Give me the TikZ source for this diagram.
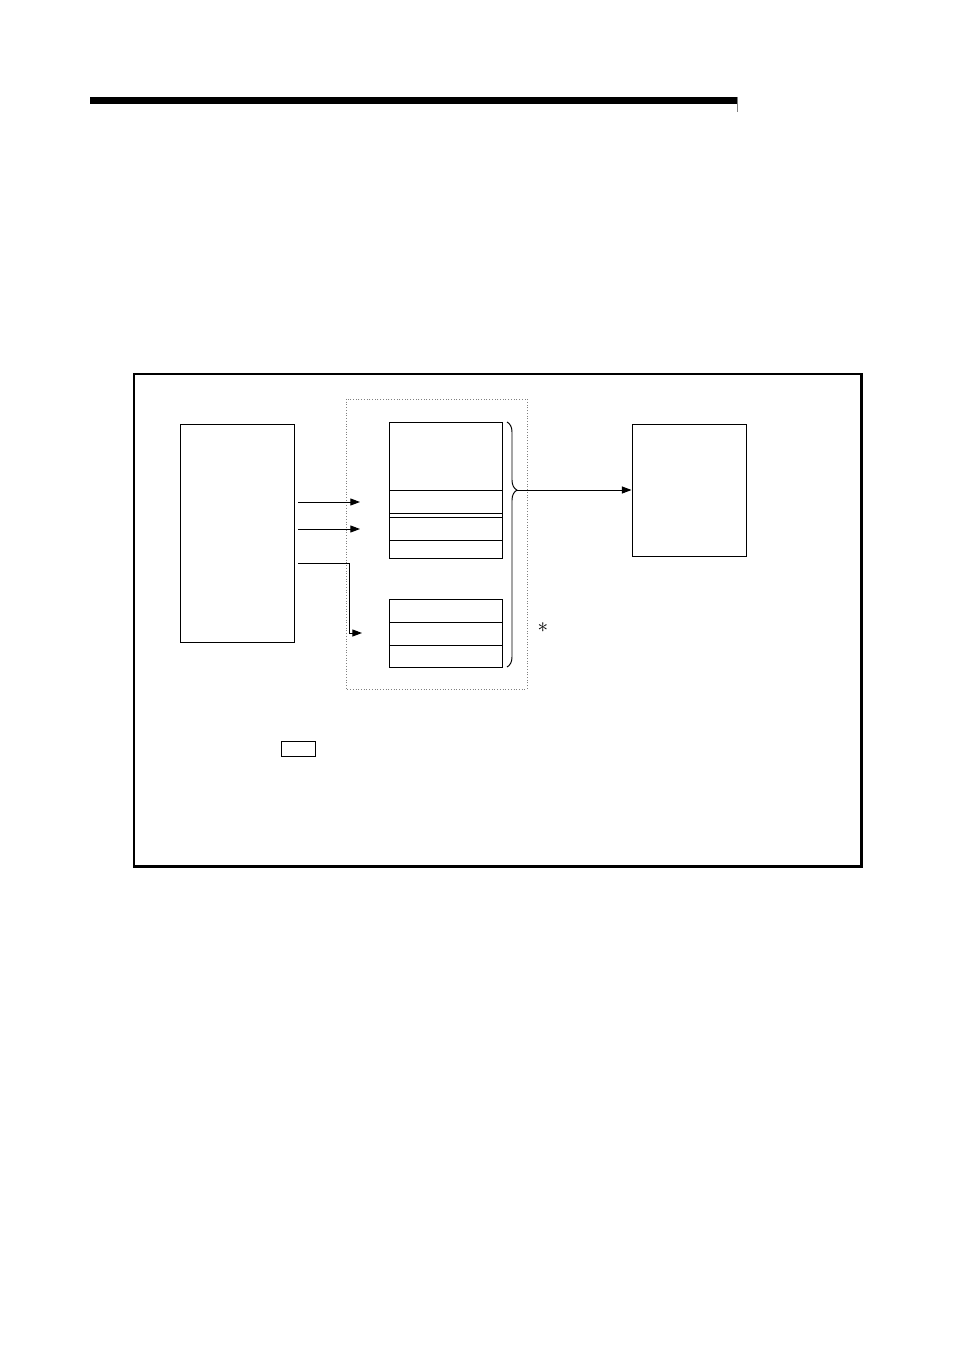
\documentclass[tikz,border=0pt]{standalone}
\usetikzlibrary{arrows.meta,decorations.pathreplacing,positioning}
\begin{document}
\begin{tikzpicture}[x=0.02cm,y=-0.02cm,
  thinline/.style={line width=0.55pt},
  blockbox/.style={draw,thinline,inner sep=0pt},
  feed/.style={thinline,-{Triangle[length=5.5pt,width=4pt]}}]
  \useasboundingbox (0,0) rectangle (954,1351);
  % header bar
  \fill (90,97) rectangle (737,104);
  \draw[gray,line width=0.4pt] (737,97) -- (737,112);
  % outer frame
  \draw[line width=1.7pt] (134,374) rectangle (861,866);
  % blocks
  \node[blockbox,minimum width=2.28cm,minimum height=4.36cm] (src) at (237,533) {};
  \draw[densely dotted,gray,thinline] (346,399) rectangle (527,689);
  \node[blockbox,minimum width=2.26cm,minimum height=2.72cm] (upper) at (445.5,490) {};
  \foreach \y in {490,513,517,540} \draw[thinline] (389,\y) -- (502,\y);
  \node[blockbox,minimum width=2.26cm,minimum height=1.36cm] (lower) at (445.5,633) {};
  \foreach \y in {622,645} \draw[thinline] (389,\y) -- (502,\y);
  \node[blockbox,minimum width=2.28cm,minimum height=2.64cm] (dst) at (689,490) {};
  % brace over both stacks
  \draw[thinline,decorate,decoration={brace,amplitude=0.2cm,aspect=0.278}] (507,422) -- (507,667);
  \coordinate (tip) at (517,490);
  \node[font=\large] (star) at (543,628) {$*$};
  % feeds
  \coordinate (in1) at (360,502);
  \coordinate (in2) at (360,529);
  \coordinate (in3) at (362,633);
  \coordinate (bend) at (349,563);
  \draw[feed] ([xshift=0.08cm]src.east |- in1) -- (in1);
  \draw[feed] ([xshift=0.08cm]src.east |- in2) -- (in2);
  \draw[feed] ([xshift=0.08cm]src.east |- bend) -- (bend) |- (in3);
  \draw[feed] (tip) -- (dst.west);
  % legend box
  \node[blockbox,minimum width=0.68cm,minimum height=0.3cm] (key) at (298,748.5) {};
\end{tikzpicture}
\end{document}
